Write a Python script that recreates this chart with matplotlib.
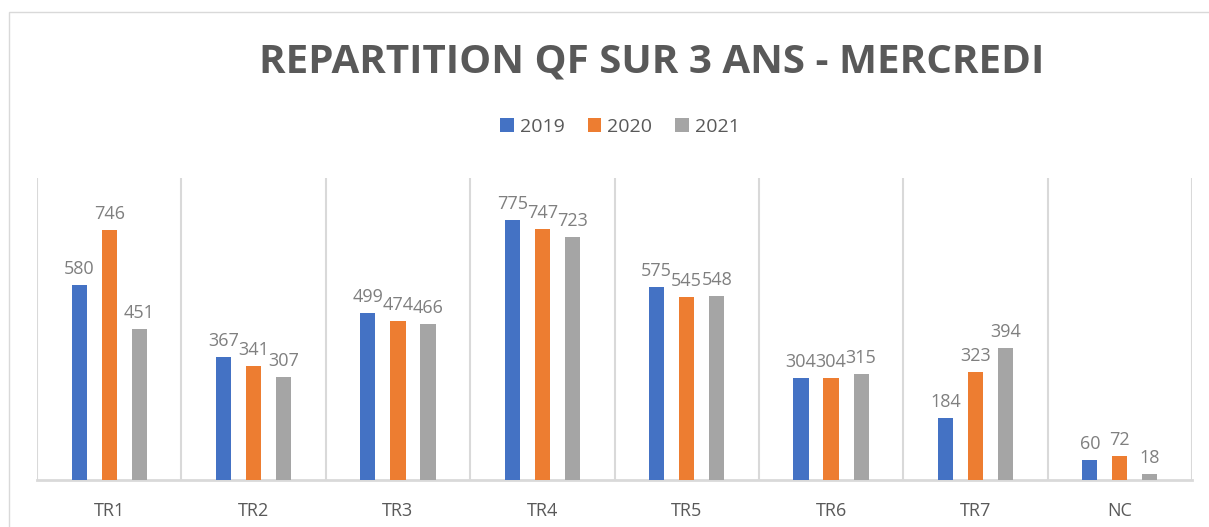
import matplotlib.pyplot as plt
import numpy as np
from matplotlib.patches import Rectangle

categories = ["TR1", "TR2", "TR3", "TR4", "TR5", "TR6", "TR7", "NC"]
years = ["2019", "2020", "2021"]
v2019 = [580, 367, 499, 775, 575, 304, 184, 60]
v2020 = [746, 341, 474, 747, 545, 304, 323, 72]
v2021 = [451, 307, 466, 723, 548, 315, 394, 18]
colors = ["#4472C4", "#ED7D31", "#A5A5A5"]

plt.rcParams['font.family'] = ['Open Sans', 'DejaVu Sans']

fig = plt.figure(figsize=(12.09, 5.27), dpi=100)
ax = fig.add_axes([37/1209, 1-480/527, (1192-37)/1209, (480-178)/527])

# cadre gris clair autour du graphique
fig.patches.append(Rectangle((9/1209, -0.1), 1.2, 1-12/527+0.1, transform=fig.transFigure,
                             fill=False, edgecolor="#d9d9d9", linewidth=1))

x = np.arange(len(categories))
w = 0.105
off = 0.208
series = [v2019, v2020, v2021]
for i, vals in enumerate(series):
    bars = ax.bar(x + (i-1)*off, vals, w, color=colors[i], label=years[i], zorder=3)
    ax.bar_label(bars, padding=5, fontsize=13, color="#7f7f7f")

ax.set_xlim(-0.5, len(categories)-0.5)
ax.set_ylim(0, 900)
ax.set_xticks(x)
ax.set_xticklabels(categories, fontsize=13, color="#595959")
ax.tick_params(axis='x', length=0, pad=16)
ax.set_yticks([])
ax.set_xticks(np.arange(-0.5, len(categories)), minor=True)
ax.tick_params(axis='x', which='minor', length=0)
ax.grid(axis='x', which='minor', color="#d9d9d9", linewidth=1.5)
for s in ["top", "left", "right"]:
    ax.spines[s].set_visible(False)
ax.spines["bottom"].set_color("#d9d9d9")
ax.spines["bottom"].set_linewidth(2)

fig.text(652/1209, 1-62/527, "REPARTITION QF SUR 3 ANS - MERCREDI", ha="center", va="center",
         fontsize=29, fontweight="bold", color="#595959")
fig.legend(loc="center", bbox_to_anchor=(620/1209, 1-127/527), ncol=3, frameon=False,
           fontsize=14, handlelength=0.7, handleheight=0.7, handletextpad=0.3,
           columnspacing=1.2, labelcolor="#595959")

fig.savefig("out.png", dpi=100, facecolor="white")
